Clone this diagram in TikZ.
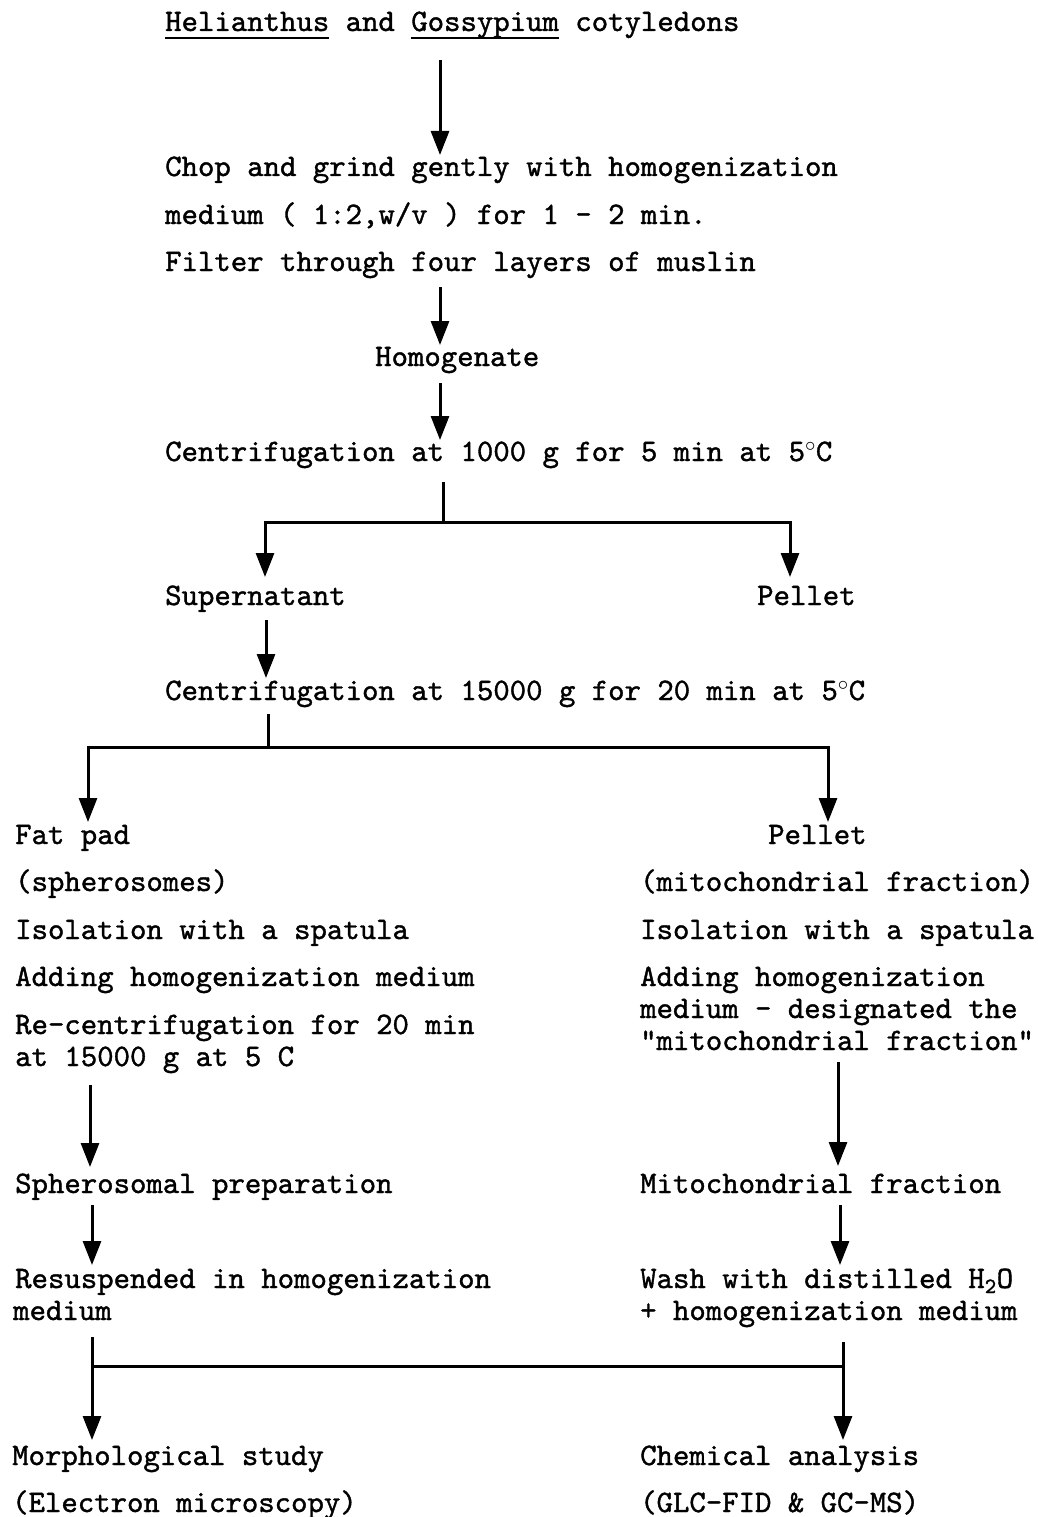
\documentclass[tikz,border=0pt]{standalone}
\usepackage{fontspec}
\newfontfamily\twfont{lmmono10-regular.otf}[BoldFont=lmmono10-regular.otf, BoldFeatures={FakeBold=1.2}]
\usetikzlibrary{arrows.meta}
\tikzset{
  txt/.style={anchor=base west, inner sep=0pt, font=\twfont\bfseries\fontsize{31.25}{36}\selectfont},
  flow/.style={line width=3pt, -{Triangle[width=18pt,length=24pt]}},
  wire/.style={line width=3pt},
  uline/.style={line width=2.2pt},
}
\begin{document}
\begin{tikzpicture}[x=1pt,y=-1pt]
\useasboundingbox (0,0) rectangle (1038,1517);
% ---- texts
\node[txt] (t0) at (165,31) {Helianthus and Gossypium cotyledons};
\draw[uline] ([yshift=-7pt]t0.base west) -- ++(164,0);
\draw[uline] ([xshift=246pt,yshift=-7pt]t0.base west) -- ++(148,0);
\node[txt] (t1a) at (165,176) {Chop and grind gently with homogenization};
\node[txt] (t1b) at (165,224) {medium ( 1:2,w/v ) for 1 - 2 min.};
\node[txt] (t1c) at (165,271) {Filter through four layers of muslin};
\node[txt] (t2) at (375,366) {Homogenate};
\node[txt] (t3) at (165,461) {Centrifugation at 1000 g for 5 min at 5$^{\circ}$C};
\node[txt] (t4l) at (165,605) {Supernatant};
\node[txt] (t4r) at (757,605) {Pellet};
\node[txt] (t5) at (165,700) {Centrifugation at 15000 g for 20 min at 5$^{\circ}$C};
% left column
\node[txt] (l1) at (15,844) {Fat pad};
\node[txt] (l2) at (15,891) {(spherosomes)};
\node[txt] (l3) at (15,939) {Isolation with a spatula};
\node[txt] (l4) at (15,986) {Adding homogenization medium};
\node[txt] (l5a) at (15,1034) {Re-centrifugation for 20 min};
\node[txt] (l5b) at (15,1066) {at 15000 g at 5 C};
\node[txt] (l6) at (15,1193) {Spherosomal preparation};
\node[txt] (l7a) at (15,1288) {Resuspended in homogenization};
\node[txt] (l7b) at (13,1320) {medium};
\node[txt] (l8a) at (12,1465) {Morphological study};
\node[txt] (l8b) at (12,1512) {(Electron microscopy)};
% right column
\node[txt] (r1) at (768,844) {Pellet};
\node[txt] (r2) at (640,891) {(mitochondrial fraction)};
\node[txt] (r3) at (640,939) {Isolation with a spatula};
\node[txt] (r4a) at (640,986) {Adding homogenization};
\node[txt] (r4b) at (640,1018) {medium - designated the};
\node[txt] (r4c) at (640,1050) {"mitochondrial fraction"};
\node[txt] (r6) at (640,1193) {Mitochondrial fraction};
\node[txt] (r7a) at (640,1288) {Wash with distilled H\textsubscript{2}O};
\node[txt] (r7b) at (640,1320) {+ homogenization medium};
\node[txt] (r8a) at (640,1465) {Chemical analysis};
\node[txt] (r8b) at (640,1512) {(GLC-FID \& GC-MS)};
% ---- connector points
\coordinate (a1s) at (440,60);   \coordinate (a1e) at (440,155);
\coordinate (a2s) at (440,287);  \coordinate (a2e) at (440,345);
\coordinate (a3s) at (440,383);  \coordinate (a3e) at (440,440);
\coordinate (b1s) at (443,482);  \coordinate (b1m) at (443,522);
\coordinate (b1l) at (265,522);  \coordinate (b1r) at (790,522);
\coordinate (b1le) at (265,577); \coordinate (b1re) at (790,577);
\coordinate (a4s) at (266,620);  \coordinate (a4e) at (266,678);
\coordinate (b2s) at (268,714);  \coordinate (b2m) at (268,747);
\coordinate (b2l) at (88,747);   \coordinate (b2r) at (828,747);
\coordinate (b2le) at (88,822);  \coordinate (b2re) at (828,822);
\coordinate (a5ls) at (90,1085); \coordinate (a5le) at (90,1167);
\coordinate (a5rs) at (838,1062);\coordinate (a5re) at (838,1166);
\coordinate (a6ls) at (92,1205); \coordinate (a6le) at (92,1265);
\coordinate (a6rs) at (840,1205);\coordinate (a6re) at (840,1265);
\coordinate (c1ls) at (92,1337); \coordinate (c1le) at (92,1440);
\coordinate (c1rs) at (843,1342);\coordinate (c1re) at (843,1440);
\coordinate (c1lm) at (92,1366); \coordinate (c1rm) at (843,1366);
% ---- connectors
\draw[flow] (a1s) -- (a1e);
\draw[flow] (a2s) -- (a2e);
\draw[flow] (a3s) -- (a3e);
\draw[wire] (b1s) -- (b1m);
\draw[wire, line cap=rect] (b1l) -- (b1r);
\draw[flow] (b1l) -- (b1le);
\draw[flow] (b1r) -- (b1re);
\draw[flow] (a4s) -- (a4e);
\draw[wire] (b2s) -- (b2m);
\draw[wire, line cap=rect] (b2l) -- (b2r);
\draw[flow] (b2l) -- (b2le);
\draw[flow] (b2r) -- (b2re);
\draw[flow] (a5ls) -- (a5le);
\draw[flow] (a5rs) -- (a5re);
\draw[flow] (a6ls) -- (a6le);
\draw[flow] (a6rs) -- (a6re);
\draw[flow] (c1ls) -- (c1le);
\draw[flow] (c1rs) -- (c1re);
\draw[wire] (c1lm) -- (c1rm);
\end{tikzpicture}
\end{document}
